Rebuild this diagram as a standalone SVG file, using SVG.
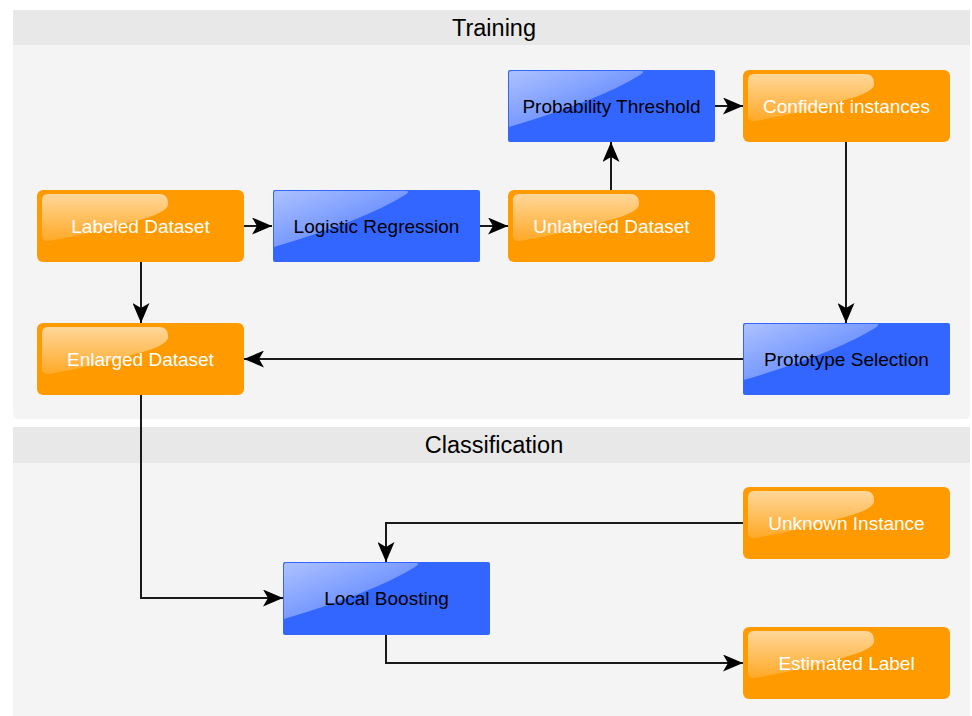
<svg xmlns="http://www.w3.org/2000/svg" width="972" height="716" viewBox="0 0 972 716">
<defs>
<style>
.hdr{fill:#e8e8e8}
.body{fill:#f4f4f4}
.title{font-family:"Liberation Sans",Arial,sans-serif;font-size:23.5px;fill:#000;text-anchor:middle}
.lbl{font-family:"Liberation Sans",Arial,sans-serif;font-size:19px;text-anchor:middle}
.orange{fill:#ff9a00}
.blue{fill:#3366ff}
.wt{fill:#ffffff}
.bk{fill:#000000}
.edge{fill:none;stroke:#1a1a1a;stroke-width:2}
</style>
<linearGradient id="go" x1="0" y1="0" x2="0" y2="1">
<stop offset="0" stop-color="#fff" stop-opacity="0.6"/>
<stop offset="1" stop-color="#fff" stop-opacity="0.15"/>
</linearGradient>
<linearGradient id="gb" x1="0" y1="0" x2="1" y2="1">
<stop offset="0" stop-color="#fff" stop-opacity="0.6"/>
<stop offset="1" stop-color="#fff" stop-opacity="0.1"/>
</linearGradient>
<path id="glossO" d="M5,10 q0,-6 6,-6 h111 q9,0 9,9 v2 q-2,7 -22,13 q-50,15 -97,23 q-7,1 -7,-6 z" fill="url(#go)"/>
<path id="glossB" d="M1,3 q0,-2 2,-2 h130 q5,0 -1,4 q-40,25 -131,52 z" fill="url(#gb)"/>
<marker id="arr" markerUnits="userSpaceOnUse" markerWidth="20" markerHeight="17" refX="20" refY="8.5" orient="auto">
<path d="M0,0 L20,8.5 L0,17 L5,8.5 z" fill="#000"/>
</marker>
</defs>
<rect width="972" height="716" fill="#ffffff"/>
<g id="panel-training">
<path class="body" d="M13,45 H970 V413 q0,6 -6,6 H19 q-6,0 -6,-6 z"/>
<rect class="hdr" x="13" y="10" width="957" height="35"/>
<text class="title" x="494" y="36">Training</text>
</g>
<g id="panel-classification">
<rect class="body" x="13" y="463" width="957" height="253"/>
<rect class="hdr" x="13" y="427" width="957" height="36"/>
<text class="title" x="494" y="453">Classification</text>
</g>
<g id="connectors">
<line class="edge" x1="244" y1="226" x2="272" y2="226" marker-end="url(#arr)"/>
<line class="edge" x1="480" y1="226" x2="508" y2="226" marker-end="url(#arr)"/>
<line class="edge" x1="611" y1="190" x2="611" y2="142" marker-end="url(#arr)"/>
<line class="edge" x1="714" y1="106" x2="743" y2="106" marker-end="url(#arr)"/>
<line class="edge" x1="846" y1="142" x2="846" y2="323" marker-end="url(#arr)"/>
<line class="edge" x1="743" y1="359" x2="244" y2="359" marker-end="url(#arr)"/>
<line class="edge" x1="141" y1="262" x2="141" y2="323" marker-end="url(#arr)"/>
<polyline class="edge" points="141,395 141,598 283,598" marker-end="url(#arr)"/>
<polyline class="edge" points="743,523 386,523 386,562" marker-end="url(#arr)"/>
<polyline class="edge" points="386,635 386,663 743,663" marker-end="url(#arr)"/>
</g>
<g id="labeled-dataset" transform="translate(37,190)">
<rect class="orange" width="207" height="72" rx="6"/>
<use href="#glossO"/>
<text class="lbl wt" x="103.5" y="43">Labeled Dataset</text>
</g>
<g id="logistic-regression" transform="translate(273,190)">
<rect class="blue" width="207" height="72" rx="2"/>
<use href="#glossB"/>
<text class="lbl bk" x="103.5" y="43">Logistic Regression</text>
</g>
<g id="unlabeled-dataset" transform="translate(508,190)">
<rect class="orange" width="207" height="72" rx="6"/>
<use href="#glossO"/>
<text class="lbl wt" x="103.5" y="43">Unlabeled Dataset</text>
</g>
<g id="probability-threshold" transform="translate(508,70)">
<rect class="blue" width="207" height="72" rx="2"/>
<use href="#glossB"/>
<text class="lbl bk" x="103.5" y="43">Probability Threshold</text>
</g>
<g id="confident-instances" transform="translate(743,70)">
<rect class="orange" width="207" height="72" rx="6"/>
<use href="#glossO"/>
<text class="lbl wt" x="103.5" y="43">Confident instances</text>
</g>
<g id="prototype-selection" transform="translate(743,323)">
<rect class="blue" width="207" height="72" rx="2"/>
<use href="#glossB"/>
<text class="lbl bk" x="103.5" y="43">Prototype Selection</text>
</g>
<g id="enlarged-dataset" transform="translate(37,323)">
<rect class="orange" width="207" height="72" rx="6"/>
<use href="#glossO"/>
<text class="lbl wt" x="103.5" y="43">Enlarged Dataset</text>
</g>
<g id="unknown-instance" transform="translate(743,487)">
<rect class="orange" width="207" height="72" rx="6"/>
<use href="#glossO"/>
<text class="lbl wt" x="103.5" y="43">Unknown Instance</text>
</g>
<g id="local-boosting" transform="translate(283,562)">
<rect class="blue" width="207" height="73" rx="2"/>
<use href="#glossB"/>
<text class="lbl bk" x="103.5" y="43">Local Boosting</text>
</g>
<g id="estimated-label" transform="translate(743,627)">
<rect class="orange" width="207" height="72" rx="6"/>
<use href="#glossO"/>
<text class="lbl wt" x="103.5" y="43">Estimated Label</text>
</g>
</svg>
